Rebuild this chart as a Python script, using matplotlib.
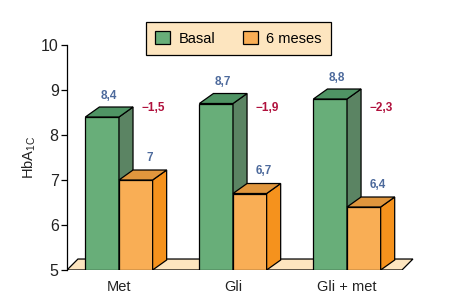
import numpy as np
import matplotlib
matplotlib.use('Agg')
import matplotlib.pyplot as plt
from matplotlib.patches import Polygon, Patch

# ---- dados ----
grupos = ['Met', 'Gli', 'Gli + met']
basal = [8.4, 8.7, 8.8]
seis_meses = [7.0, 6.7, 6.4]
rot_basal = ['8,4', '8,7', '8,8']
rot_6m = ['7', '6,7', '6,4']
diferenca = ['\u22121,5', '\u22121,9', '\u22122,3']

# cores
verde = ('#68ae79', '#5b8463', '#4f9464')     # frente, lado, topo
laranja = ('#f9ae55', '#f5921d', '#e0963d')
piso = '#fde5bf'
azul = '#4d6a9c'
vermelho = '#b0103c'

plt.rcParams['font.family'] = ['Liberation Sans', 'DejaVu Sans']

fig = plt.figure(figsize=(4.6, 3.07), dpi=100)
ax = fig.add_axes([67/460, 37/307, 353/460, 225/307])

x = np.arange(len(grupos))
w = 0.295      # largura da barra
dx = 0.123     # profundidade em x
dy = 0.222     # profundidade em y
base = 5
lw = 0.9

# piso
fdx, fdy = 0.096, 0.244
x0, x1 = -0.456, 2.482
ax.add_patch(Polygon([(x0, base), (x1, base), (x1 + fdx, base + fdy), (x0 + fdx, base + fdy)],
                     closed=True, facecolor=piso, edgecolor='black', lw=lw, zorder=1))

def barra3d(xl, val, cores):
    frente, lado, topo = cores
    ax.add_patch(Polygon([(xl, base), (xl + w, base), (xl + w, val), (xl, val)],
                         facecolor=frente, edgecolor='black', lw=lw, zorder=2))
    ax.add_patch(Polygon([(xl + w, base), (xl + w + dx, base + dy), (xl + w + dx, val + dy), (xl + w, val)],
                         facecolor=lado, edgecolor='black', lw=lw, zorder=2))
    ax.add_patch(Polygon([(xl, val), (xl + w, val), (xl + w + dx, val + dy), (xl + dx, val + dy)],
                         facecolor=topo, edgecolor='black', lw=lw, zorder=2))

for i, c in enumerate(x):
    barra3d(c - w, basal[i], verde)
    barra3d(c, seis_meses[i], laranja)
    ax.text(c - w/2 + dx/2 - 0.005, basal[i] + dy + 0.25, rot_basal[i], color=azul,
            fontsize=8.5, fontweight='bold', ha='center', va='center', zorder=5)
    ax.text(c + w/2 + dx, seis_meses[i] + dy + 0.27, rot_6m[i], color=azul,
            fontsize=8.5, fontweight='bold', ha='center', va='center', zorder=5)
    ax.text(c + 0.30, 8.59, diferenca[i], color=vermelho,
            fontsize=8.5, fontweight='bold', ha='center', va='center', zorder=5)

ax.set_xlim(-0.456, 2.640)
ax.set_ylim(5, 10)
ax.set_yticks([5, 6, 7, 8, 9, 10])
ax.set_xticks(x)
ax.set_xticklabels(grupos, fontsize=10.5, color='#222222')
ax.tick_params(axis='x', length=0, pad=7)
ax.tick_params(axis='y', length=4, width=0.9, pad=2, labelsize=11.5, labelcolor='#222222')
for s in ['top', 'right', 'bottom']:
    ax.spines[s].set_visible(False)
ax.spines['left'].set_linewidth(0.9)
ax.set_ylabel(r'HbA$_{\mathregular{1C}}$', fontsize=10.5, color='#222222', labelpad=2)

handles = [Patch(facecolor=verde[0], edgecolor='black', lw=lw, label='Basal'),
           Patch(facecolor=laranja[0], edgecolor='black', lw=lw, label='6 meses')]
leg = fig.legend(handles=handles, ncol=2, loc='center', bbox_to_anchor=(238.5/460, 1 - 38.5/307),
                 fontsize=10.5, frameon=True, fancybox=False, edgecolor='black', facecolor=piso,
                 framealpha=1, handlelength=1.0, handleheight=1.0, handletextpad=0.6,
                 columnspacing=1.9, borderpad=0.6, borderaxespad=0)
leg.get_frame().set_linewidth(0.9)

fig.savefig('out.png', dpi=100)
